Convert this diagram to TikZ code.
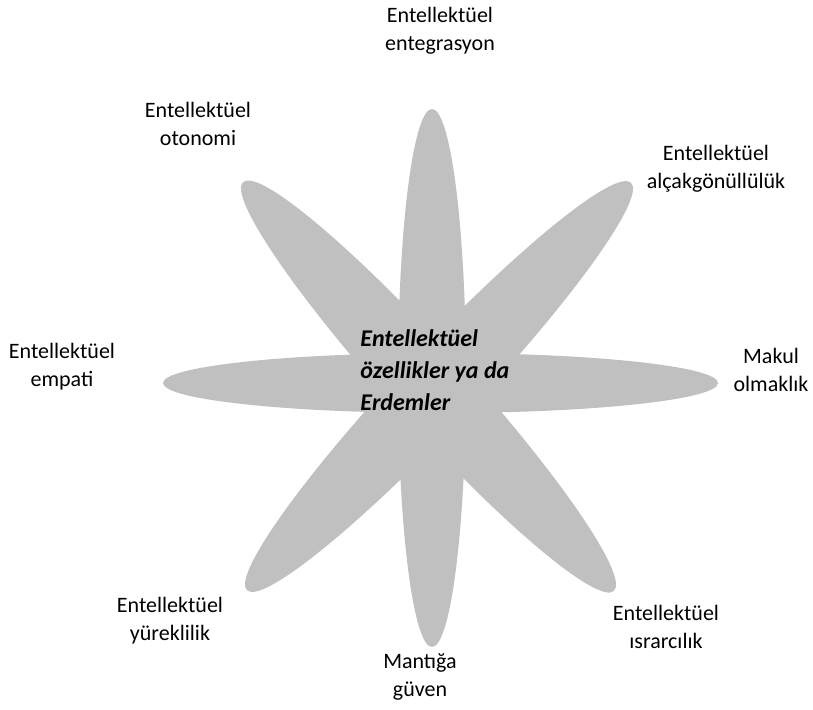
\documentclass[tikz,border=0pt]{standalone}
\usepackage{fontspec}
\setmainfont{Carlito}
\usetikzlibrary{positioning}
\definecolor{petalgray}{RGB}{192,192,192}
\tikzset{
    x=0.5pt, y=-0.5pt,
    petal/.style={fill=petalgray},
    trait/.style={align=center, inner sep=0pt, font=\fontsize{11}{14}\selectfont},
    core/.style={align=left, inner sep=0pt, font=\fontsize{12}{16}\selectfont\bfseries\itshape},
}

\begin{document}
\begin{tikzpicture}
\useasboundingbox (0,0) rectangle (813,709);

% petals
\fill[petal] (440.5,383) ellipse [x radius=277.5, y radius=30];
\fill[petal] (432,378) ellipse [x radius=34, y radius=269];
\fill[petal, shift={(428.5,386.5)}, rotate=-47.8] (0,0) ellipse [x radius=276, y radius=38];
\fill[petal, shift={(439,386.5)}, rotate=46.7] (0,0) ellipse [x radius=280, y radius=38];

% centre
\node[core, anchor=west] (heart) at (360,370) {Entellektüel\\özellikler ya da\\Erdemler};

% traits
\node[trait] (integ) at (440,31) {Entellektüel\\entegrasyon};
\node[trait] (auton) at (198,124) {Entellektüel\\otonomi};
\node[trait] (humil) at (716,169) {Entellektüel\\alçakgönüllülük};
\node[trait] (empat) at (62,367) {Entellektüel\\empati};
\node[trait] (reaso) at (771,370) {Makul\\olmaklık};
\node[trait] (coura) at (170,621) {Entellektüel\\yüreklilik};
\node[trait] (perse) at (666,627) {Entellektüel\\ısrarcılık};
\node[trait] (trust) at (420,677) {Mantığa\\güven};

\end{tikzpicture}
\end{document}
